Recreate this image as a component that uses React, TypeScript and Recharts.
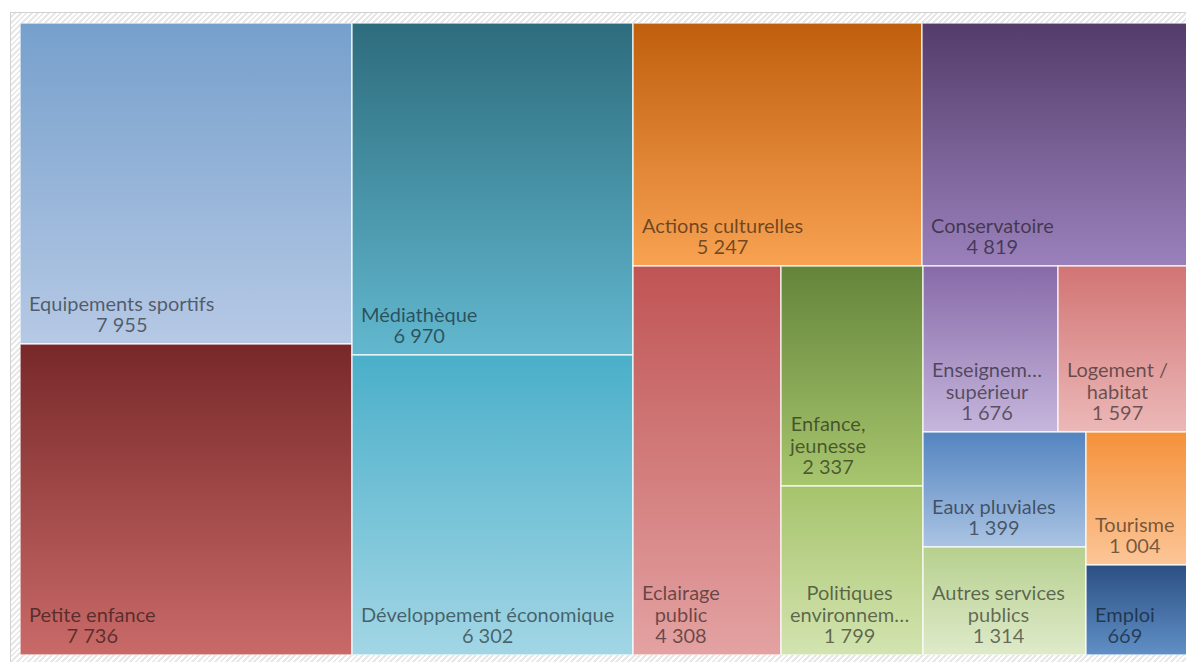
import { Treemap } from "recharts";

const names = [
    "Equipements sportifs",
    "Petite enfance",
    "Médiathèque",
    "Développement économique",
    "Actions culturelles",
    "Conservatoire",
    "Eclairage public",
    "Enfance, jeunesse",
    "Politiques environnementales",
    "Enseignement supérieur",
    "Logement / habitat",
    "Eaux pluviales",
    "Autres services publics",
    "Tourisme",
    "Emploi",
];

const amounts = [
    7955, 7736, 6970, 6302, 5247, 4819, 4308, 2337, 1799, 1676, 1597, 1399,
    1314, 1004, 669,
];

// top / bottom colour of each cell's vertical gradient
const GRADIENTS: Record<string, [string, string]> = {
    "Equipements sportifs": ["#76a0cc", "#b6c9e5"],
    "Petite enfance": ["#782829", "#c96a68"],
    "Médiathèque": ["#2d6c7d", "#62b8cf"],
    "Développement économique": ["#4aafc9", "#a2d6e5"],
    "Actions culturelles": ["#bf5f0d", "#f8a252"],
    "Conservatoire": ["#533c6a", "#9b81bc"],
    "Eclairage public": ["#c05454", "#e4a2a2"],
    "Enfance, jeunesse": ["#64843a", "#a8c66e"],
    "Politiques environnementales": ["#a6c36c", "#d3e4b0"],
    "Enseignement supérieur": ["#876aa8", "#c6b6dc"],
    "Logement / habitat": ["#d27474", "#ecb8b8"],
    "Eaux pluviales": ["#5384c0", "#abc4e3"],
    "Autres services publics": ["#b6d08e", "#dfeaca"],
    "Tourisme": ["#f5913a", "#fcc698"],
    "Emploi": ["#2b4f83", "#6090c6"],
};

const data = names.map((name, i) => ({ name, value: amounts[i] }));

const FONT_SIZE = 20;
const LINE_H = 21.5;
const FONT = `${FONT_SIZE}px Lato`;

let ctx: CanvasRenderingContext2D | null = null;
const measure = (s: string) => {
    if (!ctx) {
        ctx = document.createElement("canvas").getContext("2d");
    }
    if (!ctx) return s.length * FONT_SIZE * 0.5;
    ctx.font = FONT;
    return ctx.measureText(s).width;
};

const fitWord = (word: string, max: number) => {
    if (measure(word) <= max) return word;
    let w = word;
    while (w.length > 1 && measure(w + "…") > max) w = w.slice(0, -1);
    return w + "…";
};

const wrap = (text: string, max: number) => {
    const words = text.split(" ");
    const lines: string[] = [];
    let cur = "";
    words.forEach((w) => {
        const test = cur ? cur + " " + w : w;
        if (measure(test) <= max) {
            cur = test;
        } else {
            if (cur) lines.push(cur);
            cur = fitWord(w, max);
        }
    });
    if (cur) lines.push(cur);
    return lines;
};

const fmt = (v: number) => v.toLocaleString("fr-FR").replace(/\s/g, " ");

const Cell = (props: any) => {
    const { x, y, width, height, depth, name, value } = props;
    if (depth !== 1) return null;
    const id = "grad-" + names.indexOf(name);
    const [top, bottom] = GRADIENTS[name] || ["#999", "#ccc"];
    const maxW = width - 20;
    const lines = [...wrap(name, maxW), fmt(value)];
    const blockW = Math.max(...lines.map(measure));
    const cx = x + 9 + blockW / 2;
    const baseY = y + height - 12;
    return (
        <g>
            <defs>
                <linearGradient id={id} x1="0" y1="0" x2="0" y2="1">
                    <stop offset="0%" stopColor={top} />
                    <stop offset="100%" stopColor={bottom} />
                </linearGradient>
            </defs>
            <rect
                x={x}
                y={y}
                width={width}
                height={height}
                fill={`url(#${id})`}
                stroke="#ffffff"
                strokeOpacity={0.75}
                strokeWidth={1.5}
            />
            {lines.map((l, i) => (
                <text
                    key={i}
                    x={cx}
                    y={baseY - (lines.length - 1 - i) * LINE_H}
                    textAnchor="middle"
                    fontFamily="Lato"
                    fontSize={FONT_SIZE}
                    fill="#000"
                    fillOpacity={0.55}
                >
                    {l}
                </text>
            ))}
        </g>
    );
};

export default function App() {
    return (
        <div
            style={{
                position: "absolute",
                left: 0,
                top: 0,
                width: 1186,
                height: 662,
                overflow: "hidden",
                background: "#fff",
            }}
        >
            <div
                style={{
                    position: "absolute",
                    left: 10,
                    top: 12,
                    width: 1200,
                    height: 680,
                    border: "1px solid #d2d2d2",
                    background:
                        "repeating-linear-gradient(135deg, #ffffff 0px, #ffffff 2px, #e8e8e8 2px, #e8e8e8 4px)",
                }}
            />
            <div style={{ position: "absolute", left: 20, top: 23 }}>
                <Treemap
                    width={1167}
                    height={632}
                    data={data}
                    dataKey="value"
                    nameKey="name"
                    aspectRatio={0.775}
                    isAnimationActive={false}
                    content={<Cell />}
                />
            </div>
        </div>
    );
}
